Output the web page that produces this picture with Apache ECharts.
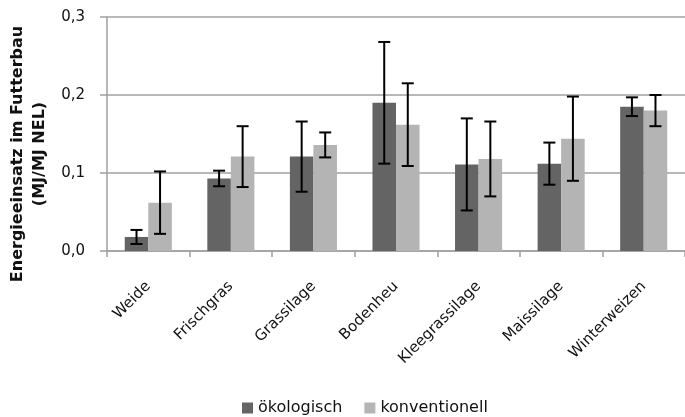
<!DOCTYPE html>
<html>
<head>
<meta charset="utf-8">
<script src="https://cdn.jsdelivr.net/npm/echarts@6/dist/echarts.min.js"></script>
<style>
html,body{margin:0;padding:0;background:#fff;}
#chart{width:685px;height:417px;}
</style>
</head>
<body>
<div id="chart"></div>
<script>
const categories = ['Weide', 'Frischgras', 'Grassilage', 'Bodenheu', 'Kleegrassilage', 'Maissilage', 'Winterweizen'];
const seriesNames = ['ökologisch', 'konventionell'];
const okoValues = [0.018, 0.093, 0.121, 0.190, 0.111, 0.112, 0.185];
const okoErr = [0.009, 0.010, 0.045, 0.078, 0.059, 0.027, 0.012];
const konvValues = [0.062, 0.121, 0.136, 0.162, 0.118, 0.144, 0.180];
const konvErr = [0.040, 0.039, 0.016, 0.053, 0.048, 0.054, 0.020];
const yTicks = [0, 0.1, 0.2, 0.3];

const FONT = 'DejaVu Sans';
const CAT_GAP = 0.43;

function errData(vals, errs) {
  return vals.map((v, i) => [i, v, errs[i]]);
}

function makeErrRenderer(sign) {
  return function (params, api) {
    const idx = api.value(0);
    const v = api.value(1);
    const e = api.value(2);
    const band = api.size([1, 0])[0];
    const bw = band * (1 - CAT_GAP) / 2;
    const x = api.coord([idx, v])[0] + sign * bw / 2;
    const yHi = api.coord([idx, v + e])[1];
    const yLo = api.coord([idx, v - e])[1];
    const cap = 6;
    const st = { stroke: '#000', lineWidth: 2 };
    return {
      type: 'group',
      children: [
        { type: 'line', shape: { x1: x, y1: yHi, x2: x, y2: yLo }, style: st },
        { type: 'line', shape: { x1: x - cap, y1: yHi, x2: x + cap, y2: yHi }, style: st },
        { type: 'line', shape: { x1: x - cap, y1: yLo, x2: x + cap, y2: yLo }, style: st }
      ]
    };
  };
}

const chart = echarts.init(document.getElementById('chart'));
chart.setOption({
  animation: false,
  backgroundColor: '#fff',
  grid: { left: 107, right: -7, top: 17, bottom: 166 },
  graphic: [{
    type: 'text',
    x: 29,
    y: 154,
    rotation: Math.PI / 2,
    style: {
      text: 'Energieeinsatz im Futterbau\n(MJ/MJ NEL)',
      font: 'bold 16px "DejaVu Sans"',
      fill: '#111',
      align: 'center',
      verticalAlign: 'middle',
      lineHeight: 22
    }
  }],
  legend: {
    data: seriesNames,
    left: 242,
    top: 400,
    padding: 0,
    itemWidth: 11,
    itemHeight: 11,
    itemGap: 22,
    icon: 'rect',
    textStyle: { fontFamily: FONT, fontSize: 16, color: '#111' }
  },
  xAxis: {
    type: 'category',
    data: categories,
    axisLine: { show: true, lineStyle: { color: '#a0a0a0', width: 1.5 } },
    axisTick: { show: true, alignWithLabel: false, length: 6, lineStyle: { color: '#a0a0a0', width: 1.5 } },
    axisLabel: { rotate: 45, margin: 33, fontFamily: FONT, fontSize: 15, color: '#111', interval: 0 }
  },
  yAxis: {
    type: 'value',
    min: 0,
    max: 0.3,
    interval: 0.1,
    axisLine: { show: true, lineStyle: { color: '#a0a0a0', width: 1.5 } },
    axisTick: { show: true, length: 7, lineStyle: { color: '#a0a0a0', width: 1.5 } },
    splitLine: { show: true, lineStyle: { color: '#a0a0a0', width: 1.5 } },
    axisLabel: {
      margin: 22,
      fontFamily: FONT,
      fontSize: 15,
      color: '#111',
      formatter: function (v) {
        const t = yTicks.find(k => Math.abs(k - v) < 1e-9);
        return (t !== undefined ? t : v).toFixed(1).replace('.', ',');
      }
    }
  },
  series: [
    {
      name: seriesNames[0],
      type: 'bar',
      data: okoValues,
      barGap: '0%',
      barCategoryGap: (CAT_GAP * 100) + '%',
      itemStyle: { color: '#646464' }
    },
    {
      name: seriesNames[1],
      type: 'bar',
      data: konvValues,
      barGap: '0%',
      barCategoryGap: (CAT_GAP * 100) + '%',
      itemStyle: { color: '#b4b4b4' }
    },
    {
      type: 'custom',
      renderItem: makeErrRenderer(-1),
      data: errData(okoValues, okoErr),
      encode: { x: 0, y: 1 },
      z: 10,
      silent: true
    },
    {
      type: 'custom',
      renderItem: makeErrRenderer(1),
      data: errData(konvValues, konvErr),
      encode: { x: 0, y: 1 },
      z: 10,
      silent: true
    }
  ]
});
</script>
</body>
</html>
